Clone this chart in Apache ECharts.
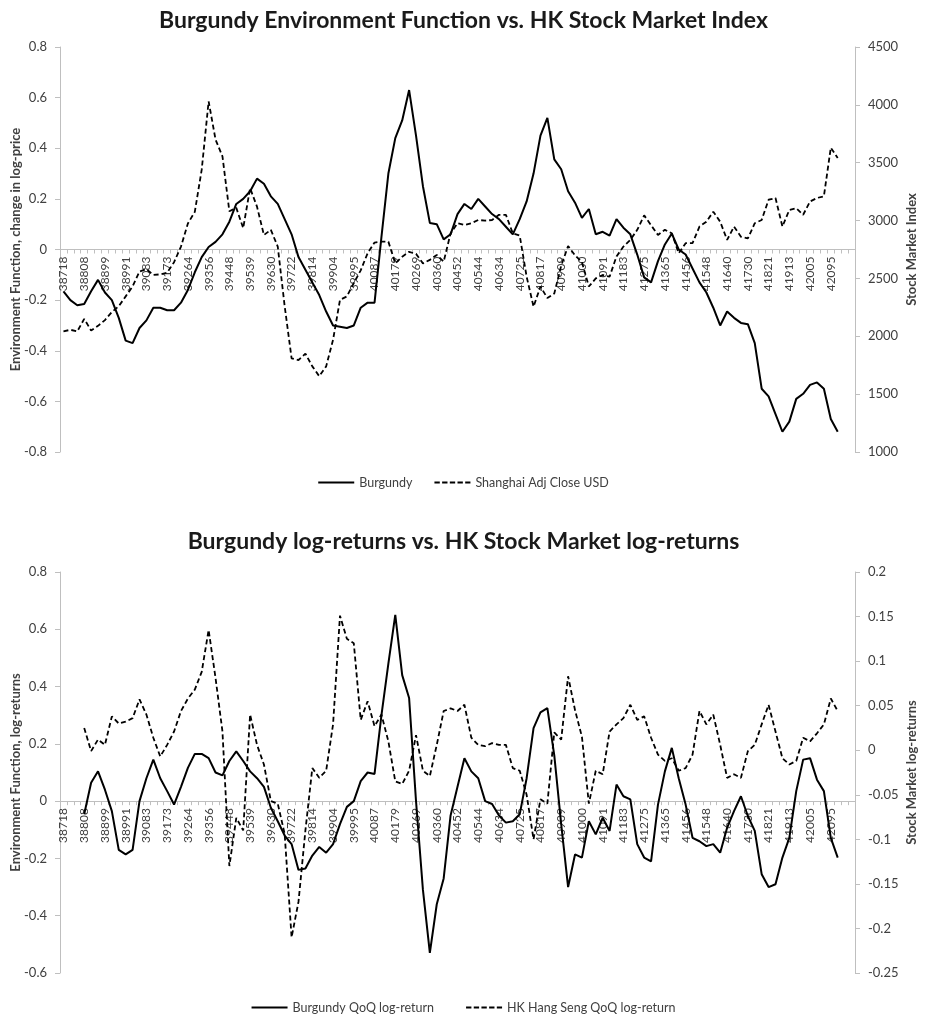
<!DOCTYPE html>
<html>
<head>
<meta charset="utf-8">
<script src="https://cdn.jsdelivr.net/npm/echarts@6/dist/echarts.min.js"></script>
<style>html,body{margin:0;padding:0;background:#fff}#c{width:927px;height:1016px}</style>
</head>
<body>
<div id="c"></div>
<script>
// Monthly category labels (Excel date serials), Jan 2006 .. Jun 2015, plus one blank category
const categories = [
38718,38749,38777,38808,38838,38869,38899,38930,38961,38991,39022,39052,
39083,39114,39142,39173,39203,39234,39264,39295,39326,39356,39387,39417,
39448,39479,39508,39539,39569,39600,39630,39661,39692,39722,39753,39783,
39814,39845,39873,39904,39934,39965,39995,40026,40057,40087,40118,40148,
40179,40210,40238,40269,40299,40330,40360,40391,40422,40452,40483,40513,
40544,40575,40603,40634,40664,40695,40725,40756,40787,40817,40848,40878,
40909,40940,40969,41000,41030,41061,41091,41122,41153,41183,41214,41244,
41275,41306,41334,41365,41395,41426,41456,41487,41518,41548,41579,41609,
41640,41671,41699,41730,41760,41791,41821,41852,41883,41913,41944,41974,
42005,42036,42064,42095,42125,42156,''];

// Top chart: Burgundy environment function (left axis)
const burgundyEF = [
-0.165,-0.20,-0.22,-0.215,-0.165,-0.12,-0.17,-0.20,-0.27,-0.36,-0.37,-0.31,
-0.28,-0.23,-0.23,-0.24,-0.24,-0.21,-0.16,-0.09,-0.03,0.01,0.03,0.06,
0.11,0.18,0.20,0.23,0.28,0.26,0.21,0.18,0.12,0.06,-0.03,-0.08,
-0.13,-0.18,-0.245,-0.30,-0.305,-0.31,-0.30,-0.23,-0.21,-0.21,0.05,0.30,
0.44,0.51,0.63,0.45,0.25,0.105,0.10,0.04,0.06,0.14,0.18,0.16,
0.20,0.17,0.14,0.12,0.09,0.06,0.12,0.19,0.30,0.45,0.52,0.356,
0.317,0.23,0.185,0.125,0.16,0.06,0.07,0.055,0.12,0.086,0.06,-0.02,
-0.11,-0.13,-0.046,0.02,0.063,0.0,-0.02,-0.075,-0.13,-0.17,-0.23,-0.30,
-0.245,-0.27,-0.29,-0.295,-0.37,-0.55,-0.58,-0.65,-0.72,-0.68,-0.59,-0.57,
-0.535,-0.525,-0.55,-0.67,-0.72];

// Top chart: Shanghai Adj Close USD (right axis)
const shanghai = [
2043,2056,2043,2150,2050,2090,2140,2210,2260,2345,2430,2560,
2580,2530,2535,2550,2640,2775,2975,3075,3440,4030,3700,3555,
3080,3110,2935,3280,3120,2875,2920,2775,2260,1810,1795,1850,
1740,1655,1740,1970,2315,2345,2460,2570,2718,2810,2818,2818,
2630,2688,2730,2712,2630,2660,2703,2645,2890,2977,2962,2977,
3005,3000,3005,3050,3050,2890,2870,2515,2256,2430,2330,2370,
2610,2780,2700,2640,2430,2500,2530,2515,2690,2775,2833,2920,
3045,2960,2876,2920,2890,2717,2805,2805,2948,2990,3077,2990,
2833,2948,2860,2846,2977,3005,3180,3195,2948,3092,3107,3050,
3165,3195,3210,3630,3540];

// Bottom chart: Burgundy QoQ log-return (left axis)
const burgundyQoQ = [
null,null,null,-0.046,0.064,0.104,0.04,-0.035,-0.17,-0.186,-0.17,0.0,
0.08,0.145,0.08,0.035,-0.012,0.05,0.116,0.165,0.165,0.15,0.10,0.09,
0.14,0.174,0.14,0.104,0.08,0.05,-0.023,-0.07,-0.12,-0.15,-0.24,-0.235,
-0.19,-0.16,-0.18,-0.15,-0.08,-0.02,0.0,0.07,0.10,0.095,0.30,0.48,
0.65,0.44,0.36,0.0,-0.31,-0.53,-0.36,-0.27,-0.05,0.05,0.15,0.104,
0.08,0.0,-0.01,-0.05,-0.075,-0.07,-0.046,0.08,0.255,0.31,0.325,0.16,
-0.08,-0.30,-0.186,-0.197,-0.07,-0.116,-0.058,-0.104,0.058,0.017,0.006,-0.15,
-0.197,-0.21,-0.012,0.104,0.186,0.08,-0.012,-0.128,-0.14,-0.157,-0.15,-0.18,
-0.093,-0.035,0.017,-0.052,-0.104,-0.255,-0.30,-0.29,-0.197,-0.128,0.035,0.145,
0.15,0.075,0.035,-0.128,-0.197];

// Bottom chart: HK Hang Seng QoQ log-return (right axis)
const hangSengQoQ = [
null,null,null,0.025,-0.001,0.012,0.006,0.038,0.03,0.032,0.036,0.057,
0.04,0.014,-0.007,0.006,0.021,0.044,0.058,0.068,0.088,0.135,0.081,0.021,
-0.13,-0.076,-0.09,0.04,0.006,-0.016,-0.057,-0.06,-0.094,-0.21,-0.17,-0.09,
-0.02,-0.031,-0.023,0.029,0.151,0.125,0.12,0.034,0.055,0.027,0.04,0.01,
-0.035,-0.038,-0.023,0.017,-0.023,-0.029,0.006,0.044,0.047,0.044,0.051,0.014,
0.006,0.0045,0.008,0.006,0.006,-0.02,-0.023,-0.05,-0.10,-0.055,-0.06,0.02,
0.012,0.083,0.045,0.015,-0.06,-0.023,-0.027,0.021,0.029,0.036,0.051,0.034,
0.038,0.014,-0.005,-0.012,-0.009,-0.023,-0.02,-0.005,0.044,0.029,0.04,0.006,
-0.031,-0.027,-0.031,-0.001,0.006,0.029,0.051,0.021,-0.009,-0.016,-0.012,0.014,
0.01,0.019,0.029,0.058,0.044];

// Axis ranges
const topLeft = { min: -0.8, max: 0.8, step: 0.2 };
const topRight = { min: 1000, max: 4500, step: 500 };
const botLeft = { min: -0.6, max: 0.8, step: 0.2 };
const botRight = { min: -0.25, max: 0.2, step: 0.05 };

const FONT = 'Lato, "Open Sans", sans-serif';
const TXT = '#404040';
const AX = '#bfbfbf';
const dashIcon = 'path://M0,0h5.5v2h-5.5zM7.9,0h5.5v2h-5.5zM15.8,0h5.5v2h-5.5zM23.7,0h5.5v2h-5.5zM31.6,0h5.4v2h-5.4z';

const G = [
  { left: 60, right: 72, top: 47, height: 405, containLabel: false, outerBoundsMode: 'none' },
  { left: 60, right: 72, top: 572, height: 401, containLabel: false, outerBoundsMode: 'none' }
];

// x axis sits on the zero line of the left axis: shift it up from the grid bottom
function zeroOffset(grid, rng) {
  return -grid.height * (0 - rng.min) / (rng.max - rng.min);
}

function xAx(gi, rng) {
  return {
    type: 'category', gridIndex: gi, data: categories, boundaryGap: true,
    position: 'bottom', offset: zeroOffset(G[gi], rng),
    axisLine: { onZero: false, lineStyle: { color: AX, width: 1 } },
    axisTick: { show: true, interval: 0, length: 4, lineStyle: { color: AX } },
    axisLabel: { interval: 2, rotate: 90, fontSize: 12, color: TXT, fontFamily: FONT, margin: 7 },
    splitLine: { show: false }
  };
}
function yAx(gi, pos, rng, name, gap) {
  return {
    type: 'value', gridIndex: gi, position: pos, min: rng.min, max: rng.max, interval: rng.step,
    name: name, nameLocation: 'middle', nameGap: gap, nameRotate: 90, nameMoveOverlap: false,
    nameTextStyle: { fontSize: 13, fontWeight: 'bold', color: TXT, fontFamily: FONT },
    axisLine: { show: true, onZero: false, lineStyle: { color: AX } },
    axisTick: { show: true, length: 5, lineStyle: { color: AX } },
    axisLabel: { fontSize: 13, color: TXT, fontFamily: FONT, margin: 13,
      formatter: function (v) { return String(+v.toFixed(4)); } },
    splitLine: { show: false }
  };
}

const chart = echarts.init(document.getElementById('c'), null, { renderer: 'canvas' });
chart.setOption({
  animation: false,
  backgroundColor: '#fff',
  title: [
    { text: 'Burgundy Environment Function vs. HK Stock Market Index', left: 'center', top: 4,
      textStyle: { fontSize: 23, fontWeight: 'bold', color: '#1a1a1a', fontFamily: FONT } },
    { text: 'Burgundy log-returns vs. HK Stock Market log-returns', left: 'center', top: 525,
      textStyle: { fontSize: 23, fontWeight: 'bold', color: '#1a1a1a', fontFamily: FONT } }
  ],
  legend: [
    { data: [{ name: 'Burgundy', icon: 'rect' }, { name: 'Shanghai Adj Close USD', icon: dashIcon }],
      left: 'center', top: 471, itemWidth: 36, itemHeight: 2, itemGap: 22,
      textStyle: { fontSize: 12.5, color: TXT, fontFamily: FONT } },
    { data: [{ name: 'Burgundy QoQ log-return', icon: 'rect' }, { name: 'HK Hang Seng QoQ log-return', icon: dashIcon }],
      left: 'center', top: 996, itemWidth: 36, itemHeight: 2, itemGap: 32,
      textStyle: { fontSize: 12.5, color: TXT, fontFamily: FONT } }
  ],
  grid: G,
  xAxis: [xAx(0, topLeft), xAx(1, botLeft)],
  yAxis: [
    yAx(0, 'left', topLeft, 'Environment Function, change in log-price', 38),
    yAx(0, 'right', topRight, 'Stock Market Index', 50),
    yAx(1, 'left', botLeft, 'Environment Function, log-returns', 38),
    yAx(1, 'right', botRight, 'Stock Market log-returns', 50)
  ],
  series: [
    { name: 'Burgundy', type: 'line', xAxisIndex: 0, yAxisIndex: 0, data: burgundyEF,
      symbol: 'none', color: '#000', lineStyle: { color: '#000', width: 2 }, z: 3 },
    { name: 'Shanghai Adj Close USD', type: 'line', xAxisIndex: 0, yAxisIndex: 1, data: shanghai,
      symbol: 'none', color: '#000', lineStyle: { color: '#000', width: 1.8, type: [5, 3] }, z: 3 },
    { name: 'Burgundy QoQ log-return', type: 'line', xAxisIndex: 1, yAxisIndex: 2, data: burgundyQoQ,
      symbol: 'none', color: '#000', lineStyle: { color: '#000', width: 2 }, z: 3 },
    { name: 'HK Hang Seng QoQ log-return', type: 'line', xAxisIndex: 1, yAxisIndex: 3, data: hangSengQoQ,
      symbol: 'none', color: '#000', lineStyle: { color: '#000', width: 1.8, type: [5, 3] }, z: 3 }
  ]
});
</script>
</body>
</html>
